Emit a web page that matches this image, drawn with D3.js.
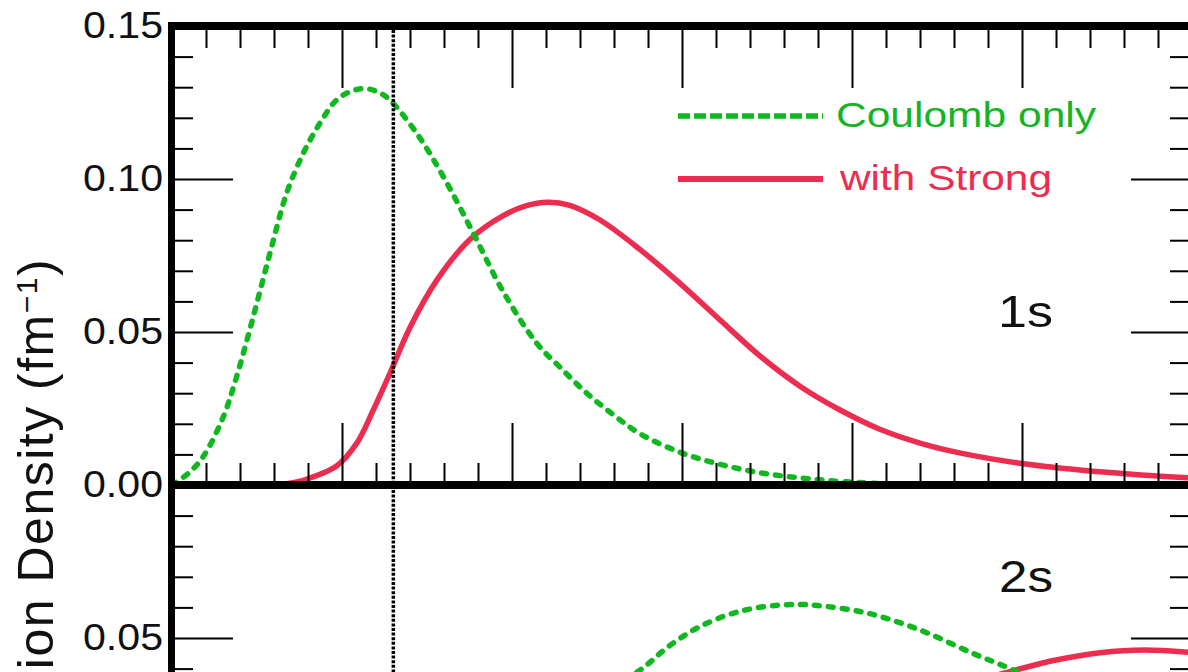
<!DOCTYPE html>
<html>
<head>
<meta charset="utf-8">
<script src="https://cdn.jsdelivr.net/npm/d3@7"></script>
<style>
  html, body { margin: 0; padding: 0; background: #fff; overflow: hidden; }
  svg { display: block; font-family: "Liberation Sans", Arial, Helvetica, sans-serif; }
</style>
</head>
<body>
<svg id="chart" width="1188" height="672"></svg>
<script>
// radial axis (no labels visible in this crop)
const xDomain = [0, 30];
const xMajor = [0, 5, 10, 15, 20, 25, 30];
const cutRadius = 6.51; // dotted vertical marker

// y ticks
const topMajor = [0, 0.05, 0.10, 0.15];
const topLabels = ["0.00", "0.05", "0.10", "0.15"];
const botMajor = [0.05, 0.10];
const botLabels = ["0.05"];
const botLabelValues = [0.05];

// 1s densities [r, value]
const coulomb1s = [[0,0],[0.5,0.004],[0.92,0.0093],[1.51,0.0223],[1.9,0.0354],[2.39,0.055],[2.88,0.0757],
  [3.37,0.0953],[3.86,0.1084],[4.35,0.1182],[4.84,0.1258],[5.3,0.1288],[5.73,0.1295],[6.1,0.1282],
  [6.41,0.1258],[7.2,0.1149],[7.98,0.1008],[8.86,0.0823],[9.74,0.0632],[10.73,0.0463],[11.41,0.0385],
  [12.2,0.0300],[13.0,0.0228],[13.76,0.0168],[14.94,0.0107],[16.1,0.0068],[17.3,0.0040],[18.5,0.0023],
  [19.6,0.0012],[21,0.0004],[23,0.0001],[30,0]];
const strong1s = [[0,0],[3.0,0],[3.6,0.0008],[4.06,0.0023],[4.84,0.0062],[5.43,0.0136],[5.92,0.0245],
  [6.41,0.0365],[7.0,0.0515],[7.78,0.0668],[8.76,0.0802],[9.74,0.0880],[10.4,0.0912],[11.05,0.0924],
  [11.7,0.0914],[12.59,0.0866],[13.76,0.0770],[14.94,0.0659],[16.12,0.0539],[17.29,0.0422],
  [18.47,0.0323],[19.65,0.0245],[20.8,0.0183],[22.0,0.0137],[23.2,0.0104],[24.94,0.0071],[26.7,0.0049],
  [28.5,0.0033],[30,0.0023]];

// 2s densities [r, value]
const coulomb2s = [[0,0],[2,0.01],[4,0.005],[6,0],[8,0.005],[10,0.016],[12,0.029],[13.7,0.039],
  [14.6,0.0472],[15.52,0.0537],[16.73,0.0588],[18.1,0.0609],[19.0,0.0606],[20.5,0.058],[22.0,0.0526],
  [23.55,0.045],[24.8,0.0393],[26,0.033],[28,0.024],[30,0.016]];
const strong2s = [[0,0],[6,0],[10,0.004],[14,0.012],[18,0.022],[22,0.031],[24.8,0.0395],[26,0.0428],
  [27.3,0.0452],[28.6,0.0461],[30,0.0452]];

const green = "#10b81f";
const red = "#ec2d50";

const svg = d3.select("#chart");

const x = d3.scaleLinear().domain(xDomain).range([172, 1192]);
const yTop = d3.scaleLinear().domain([0, 0.15]).range([485, 26]);
const yBot = d3.scaleLinear().domain([0, 0.10]).range([791, 485]);

const xMinor = d3.range(0, 31).filter(v => v % 5 !== 0);
const topMinor = d3.range(0, 16).filter(v => v % 5 !== 0).map(v => v / 100);
const botMinor = d3.range(0, 11).filter(v => v % 5 !== 0).map(v => v / 100);

const defs = svg.append("defs");
defs.append("clipPath").attr("id", "clipTop")
  .append("rect").attr("x", 172).attr("y", 26).attr("width", 1020).attr("height", 463);
defs.append("clipPath").attr("id", "clipBot")
  .append("rect").attr("x", 172).attr("y", 482).attr("width", 1020).attr("height", 320);

const line = yScale => d3.line()
  .x(d => x(d[0]))
  .y(d => yScale(Math.max(0, d[1])))
  .curve(d3.curveCatmullRom.alpha(0.5));

function drawCurves(clip, yScale, coul, strong) {
  const g = svg.append("g").attr("clip-path", `url(#${clip})`);
  g.append("path").datum(strong).attr("d", line(yScale))
    .attr("fill", "none").attr("stroke", red).attr("stroke-width", 5.5);
  g.append("path").datum(coul).attr("d", line(yScale))
    .attr("fill", "none").attr("stroke", green).attr("stroke-width", 5.5)
    .attr("stroke-dasharray", "5,9").attr("stroke-linecap", "round");
}
drawCurves("clipTop", yTop, coulomb1s, strong1s);
drawCurves("clipBot", yBot, coulomb2s, strong2s);

// ticks, all pointing inward
function ticks(axis, transform) {
  const g = svg.append("g").attr("transform", transform).call(axis);
  g.select(".domain").remove();
  g.selectAll("text").remove();
  g.selectAll("line").attr("stroke", "#000").attr("stroke-width", 2);
}
ticks(d3.axisTop(x).tickValues(xMinor).tickSize(22), "translate(0,485)");
ticks(d3.axisTop(x).tickValues(xMajor).tickSize(62), "translate(0,485)");
ticks(d3.axisBottom(x).tickValues(xMinor).tickSize(22), "translate(0,26)");
ticks(d3.axisBottom(x).tickValues(xMajor).tickSize(62), "translate(0,26)");

ticks(d3.axisRight(yTop).tickValues(topMinor).tickSize(21), "translate(172,0)");
ticks(d3.axisRight(yTop).tickValues(topMajor).tickSize(61), "translate(172,0)");
ticks(d3.axisLeft(yTop).tickValues(topMinor).tickSize(22), "translate(1192,0)");
ticks(d3.axisLeft(yTop).tickValues(topMajor).tickSize(61), "translate(1192,0)");

ticks(d3.axisRight(yBot).tickValues(botMinor).tickSize(21), "translate(172,0)");
ticks(d3.axisRight(yBot).tickValues(botMajor).tickSize(61), "translate(172,0)");
ticks(d3.axisLeft(yBot).tickValues(botMinor).tickSize(22), "translate(1192,0)");
ticks(d3.axisLeft(yBot).tickValues(botMajor).tickSize(61), "translate(1192,0)");

// dotted marker
svg.append("line")
  .attr("x1", x(cutRadius)).attr("x2", x(cutRadius))
  .attr("y1", 30).attr("y2", 680)
  .attr("stroke", "#000").attr("stroke-width", 3.5).attr("stroke-dasharray", "3,1.6");

// thick frame
const frame = svg.append("g").attr("stroke", "#000");
frame.append("line").attr("x1", 171.5).attr("x2", 171.5).attr("y1", 22).attr("y2", 680).attr("stroke-width", 7);
frame.append("line").attr("x1", 168).attr("x2", 1200).attr("y1", 26).attr("y2", 26).attr("stroke-width", 8);
frame.append("line").attr("x1", 168).attr("x2", 1200).attr("y1", 485).attr("y2", 485).attr("stroke-width", 8);
frame.append("line").attr("x1", 1193).attr("x2", 1193).attr("y1", 22).attr("y2", 680).attr("stroke-width", 8);

// tick labels
svg.append("g").selectAll("text").data(topMajor).join("text")
  .attr("x", 163).attr("y", d => yTop(d) + 12)
  .attr("text-anchor", "end").attr("font-size", 37)
  .attr("textLength", 80).attr("lengthAdjust", "spacingAndGlyphs")
  .attr("fill", "#111").text((d, i) => topLabels[i]);
svg.append("g").selectAll("text").data(botLabelValues).join("text")
  .attr("x", 163).attr("y", d => yBot(d) + 12)
  .attr("text-anchor", "end").attr("font-size", 37)
  .attr("textLength", 80).attr("lengthAdjust", "spacingAndGlyphs")
  .attr("fill", "#111").text((d, i) => botLabels[i]);

// y-axis title (runs past the bottom edge, as in the source crop)
const yt = svg.append("text")
  .attr("transform", "translate(53,704) rotate(-90)")
  .attr("font-size", 50).attr("letter-spacing", "1.5px").attr("fill", "#111");
yt.append("tspan").text("Pion Density (fm");
yt.append("tspan").attr("font-size", 30).attr("dy", -16).text("\u22121");
yt.append("tspan").attr("dy", 16).text(")");

// state labels
svg.append("text").attr("x", 998).attr("y", 327).attr("font-size", 45)
  .attr("textLength", 55).attr("lengthAdjust", "spacingAndGlyphs").attr("fill", "#111").text("1s");
svg.append("text").attr("x", 999).attr("y", 592).attr("font-size", 45)
  .attr("textLength", 54).attr("lengthAdjust", "spacingAndGlyphs").attr("fill", "#111").text("2s");

// legend
const legend = svg.append("g");
legend.append("line").attr("x1", 678).attr("x2", 823).attr("y1", 116).attr("y2", 116)
  .attr("stroke", green).attr("stroke-width", 5.5).attr("stroke-dasharray", "12,4");
legend.append("text").attr("x", 836).attr("y", 127).attr("font-size", 35)
  .attr("textLength", 260).attr("lengthAdjust", "spacingAndGlyphs")
  .attr("fill", "#14b423").text("Coulomb only");
legend.append("line").attr("x1", 678).attr("x2", 823).attr("y1", 179).attr("y2", 179)
  .attr("stroke", red).attr("stroke-width", 6);
legend.append("text").attr("x", 840).attr("y", 190).attr("font-size", 35)
  .attr("textLength", 212).attr("lengthAdjust", "spacingAndGlyphs")
  .attr("fill", red).text("with Strong");
</script>
</body>
</html>
